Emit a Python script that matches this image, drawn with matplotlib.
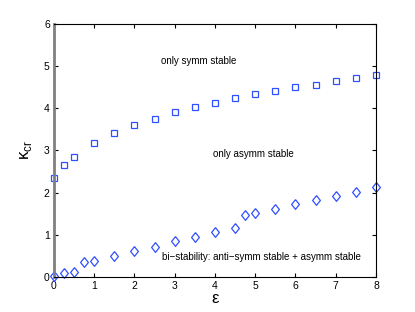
import matplotlib
matplotlib.use('Agg')
import matplotlib.pyplot as plt

plt.rcParams['font.family'] = ['Liberation Sans', 'DejaVu Sans']
plt.rcParams['mathtext.fontset'] = 'custom'
plt.rcParams['mathtext.rm'] = 'Liberation Sans'

# 数据
eps_sq = [0, 0.25, 0.5, 1, 1.5, 2, 2.5, 3, 3.5, 4, 4.5, 5, 5.5, 6, 6.5, 7, 7.5, 8]
kcr_sq = [2.35, 2.65, 2.85, 3.18, 3.40, 3.61, 3.75, 3.91, 4.03, 4.13, 4.23, 4.34,
          4.41, 4.49, 4.56, 4.64, 4.72, 4.79]
eps_di = [0, 0.25, 0.5, 0.75, 1, 1.5, 2, 2.5, 3, 3.5, 4, 4.5, 4.75, 5, 5.5, 6,
          6.5, 7, 7.5, 8]
kcr_di = [0.02, 0.10, 0.12, 0.36, 0.39, 0.49, 0.62, 0.72, 0.85, 0.94, 1.07, 1.17,
          1.47, 1.52, 1.62, 1.73, 1.82, 1.93, 2.02, 2.13]

# MATLAB风格的菱形（略高于宽）
diamond = [(0, 1), (0.8, 0), (0, -1), (-0.8, 0), (0, 1)]

fig = plt.figure(figsize=(4.15, 3.12), dpi=100)
ax = fig.add_axes([0.130, 0.112, 0.776, 0.812])

ax.plot(eps_sq, kcr_sq, 's', mfc='none', mec='#3050ff', ms=5, mew=0.9, clip_on=False)
ax.plot(eps_di, kcr_di, marker=diamond, ls='none', mfc='none', mec='#3050ff',
        ms=7, mew=0.9, clip_on=False)

ax.set_xlim(0, 8)
ax.set_ylim(0, 6)
ax.set_xticks(range(0, 9))
ax.set_yticks(range(0, 7))
ax.tick_params(direction='in', top=True, right=True, labelsize=7.5, length=3, pad=3)
for s in ['top', 'right', 'bottom']:
    ax.spines[s].set_linewidth(0.8)
ax.spines['left'].set_color('#808080')
ax.spines['left'].set_linewidth(2)

ax.text(2.66, 5.12, 'only symm stable', fontsize=7, va='center')
ax.text(3.94, 2.91, 'only asymm stable', fontsize=7, va='center')
ax.text(2.69, 0.48, 'bi\u2212stability: anti\u2212symm stable + asymm stable', fontsize=7, va='center')

ax.set_xlabel('\u03b5', fontsize=12, labelpad=0)
ax.set_ylabel('\u03ba$_{\\mathrm{cr}}$', fontsize=12, labelpad=7)

fig.savefig('out.png', dpi=100)
